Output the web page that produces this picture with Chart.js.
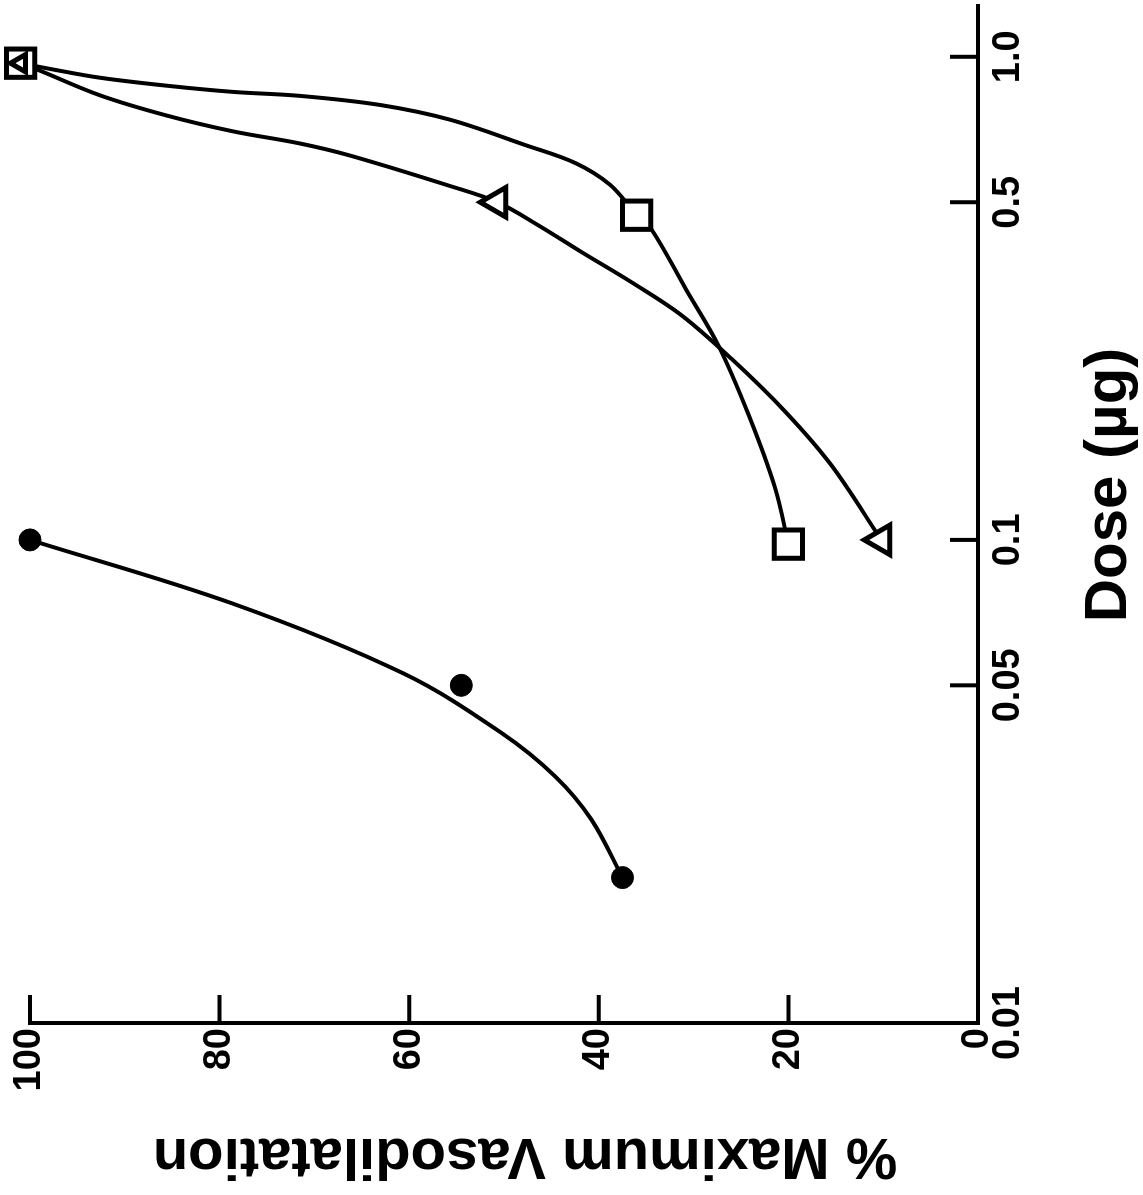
<!DOCTYPE html>
<html>
<head>
<meta charset="utf-8">
<script src="https://cdn.jsdelivr.net/npm/chart.js@4.4.1/dist/chart.umd.min.js"></script>
<style>
  html, body { margin: 0; padding: 0; background: #fff; overflow: hidden; width: 1143px; height: 1195px; }
  #wrap { position: absolute; left: 0; top: 0; width: 1195px; height: 1143px;
          transform-origin: 0 0; transform: translate(0px, 1195px) rotate(-90deg); background: #fff; }
  canvas { display: block; }
</style>
</head>
<body>
<div id="wrap"><canvas id="c" width="1195" height="1143"></canvas></div>
<script>
// ---- tick labels ----
const doseTicks = [0.01, 0.05, 0.1, 0.5, 1.0];
const doseTickLabels = ['0.01', '0.05', '0.1', '0.5', '1.0'];
const pctTicks = [0, 20, 40, 60, 80, 100];
const pctTickLabels = ['0', '20', '40', '60', '80', '100'];

// ---- filled circles ----
const circleDose = [0.02, 0.05, 0.1];
const circlePct = [37.5, 54.5, 100];
const circleCurveDose = [0.02, 0.0264, 0.0324, 0.0399, 0.0529, 0.0738, 0.1];
const circleCurvePct  = [37.5, 40.8, 44.6, 50.3, 60.6, 78.6, 100];

// ---- open squares ----
const squareDose = [0.098, 0.47, 0.97];
const squarePct = [20, 36, 101];
const squareCurveDose = [0.098, 0.128, 0.1815, 0.253, 0.330, 0.438, 0.47, 0.543, 0.603, 0.657, 0.741, 0.795, 0.830, 0.846, 0.871, 0.905, 0.944, 0.97];
const squareCurvePct  = [20, 21.4, 24.2, 27.4, 30.8, 34.4, 36, 38.8, 42.5, 47.8, 55.7, 63.1, 71.5, 78.6, 85.5, 92.6, 97.9, 101];

// ---- open triangles ----
const triDose = [0.1, 0.5, 0.97];
const triPct = [10.2, 50.7, 101];
const triCurveDose = [0.1, 0.143, 0.184, 0.237, 0.292, 0.341, 0.394, 0.447, 0.5, 0.541, 0.625, 0.662, 0.701, 0.756, 0.832, 0.935, 0.97];
const triCurvePct  = [10.2, 15.5, 20.3, 26.0, 31.3, 36.5, 41.8, 46.3, 50.7, 55.8, 66.3, 71.6, 78.6, 85.6, 92.6, 98.9, 101];

const FONT = "'Liberation Sans', Arial, Helvetica, sans-serif";
const pts = (xs, ys) => xs.map((x, i) => ({ x: x, y: ys[i] }));

// tick marks drawn inward from the axis lines, at the scale's own tick positions
const inwardTicks = {
  id: 'inwardTicks',
  afterDraw(chart) {
    const { ctx, chartArea: a, scales: { x, y } } = chart;
    ctx.save();
    ctx.strokeStyle = '#000';
    ctx.lineWidth = 4;
    ctx.beginPath();
    doseTicks.forEach(v => {
      if (v <= x.min) return;
      const p = x.getPixelForValue(v);
      ctx.moveTo(p, a.bottom); ctx.lineTo(p, a.bottom - 28);
    });
    pctTicks.forEach(v => {
      if (v <= y.min) return;
      const p = y.getPixelForValue(v);
      ctx.moveTo(a.left, p); ctx.lineTo(a.left + 28, p);
    });
    ctx.stroke();
    ctx.restore();
  }
};

// nudge the axis titles along their axes, as in the original figure
const titleShift = {
  id: 'titleShift',
  beforeDraw(chart) {
    const shifts = { x: [29, 0], y: [0, 21] };
    Object.keys(shifts).forEach(id => {
      const s = chart.scales[id];
      if (!s || s._shiftPatched) return;
      const orig = s.drawTitle;
      s.drawTitle = function () {
        const c = this.ctx;
        c.save(); c.translate(shifts[id][0], shifts[id][1]);
        orig.call(this);
        c.restore();
      };
      s._shiftPatched = true;
    });
  }
};

const curve = (xs, ys) => ({
  data: pts(xs, ys), showLine: true, pointRadius: 0, borderColor: '#000', borderWidth: 4,
  tension: 0.35, fill: false, order: 10, clip: false
});

new Chart(document.getElementById('c'), {
  type: 'scatter',
  data: {
    datasets: [
      Object.assign({ label: 'circle fit' }, curve(circleCurveDose, circleCurvePct)),
      Object.assign({ label: 'square fit' }, curve(squareCurveDose, squareCurvePct)),
      Object.assign({ label: 'triangle fit' }, curve(triCurveDose, triCurvePct)),
      { label: 'circles', data: pts(circleDose, circlePct), pointStyle: 'circle', pointRadius: 11,
        backgroundColor: '#000', borderColor: '#000', borderWidth: 1, showLine: false, order: 1, clip: false },
      { label: 'squares', data: pts(squareDose, squarePct), pointStyle: 'rect', pointRadius: 20,
        backgroundColor: '#fff', borderColor: '#000', borderWidth: 5, showLine: false, order: 3, clip: false },
      { label: 'triangles', data: pts(triDose, triPct), pointStyle: 'triangle', pointRadius: [17, 17, 10],
        backgroundColor: '#fff', borderColor: '#000', borderWidth: 5, showLine: false, order: 2, clip: false }
    ]
  },
  options: {
    responsive: false, animation: false, devicePixelRatio: 1, events: [],
    layout: { autoPadding: false, padding: { left: 0, right: 5, top: 30, bottom: 0 } },
    plugins: { legend: { display: false }, tooltip: { enabled: false } },
    scales: {
      x: {
        type: 'logarithmic', position: 'bottom', min: 0.01, max: 1.28,
        afterBuildTicks: s => { s.ticks = doseTicks.map(v => ({ value: v })); },
        afterFit: s => { s.height = 165; s.paddingLeft = 0; s.paddingRight = 0; },
        ticks: { autoSkip: false, maxRotation: 0, minRotation: 0, padding: 8, color: '#000',
                 font: { family: FONT, size: 38, weight: 'bold' }, callback: (v, i) => doseTickLabels[i] },
        grid: { display: true, drawOnChartArea: false, drawTicks: false },
        border: { display: true, color: '#000', width: 4 },
        title: { display: true, text: 'Dose (µg)', color: '#000',
                 font: { family: FONT, size: 60, weight: 'bold' }, padding: { top: 0, bottom: -2 } }
      },
      y: {
        type: 'linear', position: 'left', min: 0, max: 100,
        afterBuildTicks: s => { s.ticks = pctTicks.map(v => ({ value: v })); },
        afterFit: s => { s.width = 172; s.paddingTop = 0; s.paddingBottom = 0; },
        ticks: { padding: 5, color: '#000', font: { family: FONT, size: 38, weight: 'bold' },
                 callback: (v, i) => pctTickLabels[i] },
        grid: { display: true, drawOnChartArea: false, drawTicks: false },
        border: { display: true, color: '#000', width: 4 },
        title: { display: true, text: '% Maximum Vasodilatation', color: '#000',
                 font: { family: FONT, size: 58, weight: 'bold' }, padding: { top: 5, bottom: 0 } }
      }
    }
  },
  plugins: [inwardTicks, titleShift]
});
</script>
</body>
</html>
